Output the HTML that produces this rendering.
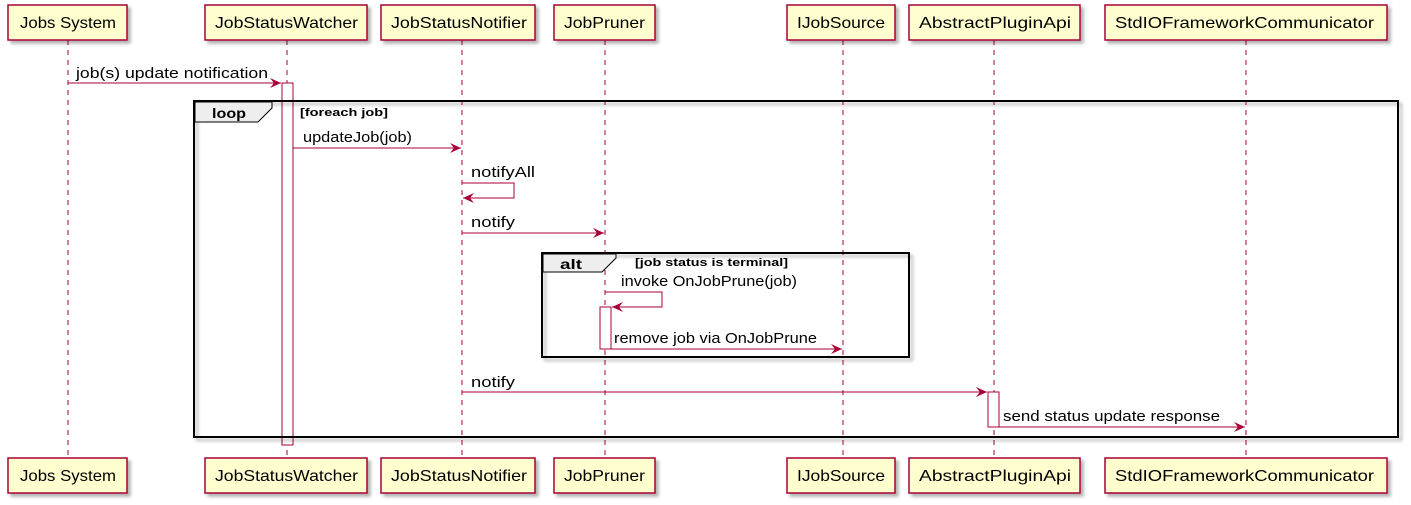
<!DOCTYPE html>
<html><head><style>body{margin:0;background:#fff}svg{display:block}text{font-family:"Liberation Sans",sans-serif}</style></head><body>
<svg width="1411" height="505" xmlns="http://www.w3.org/2000/svg">
<defs><filter id="s" x="-10%" y="-10%" width="130%" height="140%"><feDropShadow dx="3" dy="3" stdDeviation="1.5" flood-color="#000" flood-opacity="0.3"/></filter>
<marker id="a" markerWidth="12" markerHeight="10" refX="11" refY="5" orient="auto" markerUnits="userSpaceOnUse"><path d="M0,0 L11,5 L0,10 L4,5 Z" fill="#A80036"/></marker></defs>
<g stroke="#A80036" stroke-dasharray="5,5" stroke-width="1">
<line x1="68" y1="40" x2="68" y2="458"/><line x1="287" y1="40" x2="287" y2="458"/><line x1="462" y1="40" x2="462" y2="458"/><line x1="605" y1="40" x2="605" y2="458"/><line x1="843" y1="40" x2="843" y2="458"/><line x1="994" y1="40" x2="994" y2="458"/><line x1="1246" y1="40" x2="1246" y2="458"/></g>
<g fill="#FEFECE" stroke="#A80036" stroke-width="1.5" filter="url(#s)">
<rect x="8" y="5" width="119" height="35"/><rect x="205" y="5" width="162" height="35"/><rect x="381" y="5" width="154" height="35"/><rect x="554" y="5" width="101" height="35"/><rect x="787" y="5" width="108" height="35"/><rect x="909" y="5" width="171" height="35"/><rect x="1105" y="5" width="282" height="35"/>
<rect x="8" y="458" width="119" height="35"/><rect x="205" y="458" width="162" height="35"/><rect x="381" y="458" width="154" height="35"/><rect x="554" y="458" width="101" height="35"/><rect x="787" y="458" width="108" height="35"/><rect x="909" y="458" width="171" height="35"/><rect x="1105" y="458" width="282" height="35"/></g>
<g font-size="16" fill="#000" lengthAdjust="spacingAndGlyphs">
<text x="20" y="28" textLength="96" lengthAdjust="spacingAndGlyphs">Jobs System</text><text x="215" y="28" textLength="143" lengthAdjust="spacingAndGlyphs">JobStatusWatcher</text><text x="391" y="28" textLength="136" lengthAdjust="spacingAndGlyphs">JobStatusNotifier</text><text x="564" y="28" textLength="81" lengthAdjust="spacingAndGlyphs">JobPruner</text><text x="797" y="28" textLength="88" lengthAdjust="spacingAndGlyphs">IJobSource</text><text x="919" y="28" textLength="152" lengthAdjust="spacingAndGlyphs">AbstractPluginApi</text><text x="1115" y="28" textLength="259" lengthAdjust="spacingAndGlyphs">StdIOFrameworkCommunicator</text>
<text x="20" y="481" textLength="96" lengthAdjust="spacingAndGlyphs">Jobs System</text><text x="215" y="481" textLength="143" lengthAdjust="spacingAndGlyphs">JobStatusWatcher</text><text x="391" y="481" textLength="136" lengthAdjust="spacingAndGlyphs">JobStatusNotifier</text><text x="564" y="481" textLength="81" lengthAdjust="spacingAndGlyphs">JobPruner</text><text x="797" y="481" textLength="88" lengthAdjust="spacingAndGlyphs">IJobSource</text><text x="919" y="481" textLength="152" lengthAdjust="spacingAndGlyphs">AbstractPluginApi</text><text x="1115" y="481" textLength="259" lengthAdjust="spacingAndGlyphs">StdIOFrameworkCommunicator</text></g>
<rect x="282" y="83" width="11" height="362" fill="#fff" stroke="#A80036"/>
<g fill="none" stroke="#000" stroke-width="2" filter="url(#s)"><rect x="194" y="101" width="1204" height="336"/><rect x="542" y="253" width="367" height="104"/></g>
<path d="M195,102 H272 V108 L258,122 H195 Z" fill="#EEEEEE" stroke="#000"/>
<path d="M543,254 H616 V258 L602,272 H543 Z" fill="#EEEEEE" stroke="#000"/>
<g font-weight="bold" fill="#000"><text x="212" y="118" font-size="14" textLength="34" lengthAdjust="spacingAndGlyphs">loop</text><text x="300" y="116" font-size="11" textLength="88" lengthAdjust="spacingAndGlyphs">[foreach job]</text><text x="560" y="269" font-size="14" textLength="22" lengthAdjust="spacingAndGlyphs">alt</text><text x="635" y="266" font-size="11" textLength="153" lengthAdjust="spacingAndGlyphs">[job status is terminal]</text></g>
<rect x="600" y="307" width="11" height="42" fill="#fff" stroke="#A80036"/>
<rect x="988" y="392" width="11" height="35" fill="#fff" stroke="#A80036"/>
<g stroke="#A80036" stroke-width="1" fill="none" marker-end="url(#a)">
<line x1="68" y1="83" x2="281" y2="83"/><line x1="293" y1="148" x2="461" y2="148"/>
<polyline points="462,183 514,183 514,198 463,198"/><line x1="462" y1="233" x2="604" y2="233"/>
<polyline points="605,292 662,292 662,307 612,307"/><line x1="611" y1="349" x2="842" y2="349"/>
<line x1="462" y1="392" x2="987" y2="392"/><line x1="999" y1="427" x2="1245" y2="427"/></g>
<g font-size="15" fill="#000"><text x="76" y="78" textLength="192" lengthAdjust="spacingAndGlyphs">job(s) update notification</text><text x="303" y="142" textLength="109" lengthAdjust="spacingAndGlyphs">updateJob(job)</text><text x="471" y="177" textLength="64" lengthAdjust="spacingAndGlyphs">notifyAll</text><text x="471" y="227" textLength="44" lengthAdjust="spacingAndGlyphs">notify</text><text x="621" y="286" textLength="176" lengthAdjust="spacingAndGlyphs">invoke OnJobPrune(job)</text><text x="614" y="343" textLength="203" lengthAdjust="spacingAndGlyphs">remove job via OnJobPrune</text><text x="471" y="387" textLength="44" lengthAdjust="spacingAndGlyphs">notify</text><text x="1003" y="421" textLength="217" lengthAdjust="spacingAndGlyphs">send status update response</text></g>
</svg></body></html>
